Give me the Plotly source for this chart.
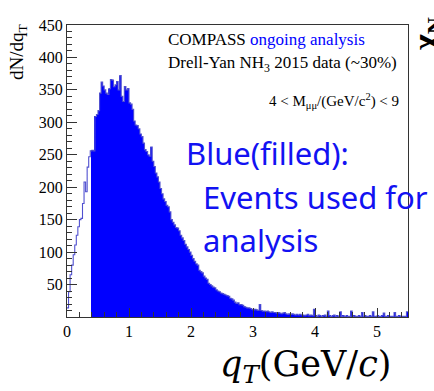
import numpy as np
import plotly.graph_objects as go

# histogram binning (GeV/c)
bin_width = 0.025
qt_min, qt_max = 0.0, 5.5
qt_cut = 0.4

# counts per bin below the qT cut (drawn as outline only)
counts_low = [14, 39, 65, 80, 96, 111, 126, 139, 150, 152, 175, 208, 193, 231, 247, 256]

# counts per bin from the qT cut up to 5.5 GeV/c (events used for analysis)
counts_used = [
    257, 256, 309, 312, 318, 345, 362, 356, 350, 345,
    343, 352, 366, 365, 355, 358, 363, 350, 372, 340,
    332, 355, 350, 352, 330, 328, 320, 302, 296, 295,
    290, 282, 278, 268, 258, 255, 250, 248, 262, 240,
    232, 222, 216, 208, 198, 190, 182, 178, 172, 170,
    162, 150, 146, 142, 138, 137, 133, 126, 122, 118,
    112, 108, 104, 100, 95, 90, 86, 82, 80, 72,
    70, 68, 63, 60, 58, 52, 50, 48, 46, 45,
    42, 40, 39, 37, 36, 35, 34, 33, 32, 29,
    28, 26, 23, 21, 22, 19, 19, 18, 16, 15,
    14, 14, 13, 12, 11, 12, 11, 10, 19, 10,
    9, 9, 8, 9, 8, 7, 8, 7, 7, 6,
    7, 6, 5, 6, 7, 5, 4, 5, 4, 5,
    4, 3, 4, 3, 4, 3, 3, 2, 3, 4,
    2, 3, 2, 12, 2, 1, 3, 2, 1, 2,
    3, 1, 9, 2, 1, 2, 3, 1, 2, 1,
    8, 1, 2, 1, 2, 1, 1, 9, 1, 2,
    1, 1, 2, 1, 7, 1, 2, 1, 1, 2,
    1, 8, 1, 1, 2, 1, 1, 2, 6, 1,
    1, 2, 1, 1, 1, 7, 1, 1, 2, 1,
    1, 1, 1, 8,
]

x_ticks = [0, 1, 2, 3, 4, 5]
y_ticks = [50, 100, 150, 200, 250, 300, 350, 400, 450]

n_low = len(counts_low)
edges_low = qt_min + bin_width * np.arange(n_low + 1)
edges_used = qt_cut + bin_width * np.arange(len(counts_used) + 1)
centers_used = 0.5 * (edges_used[:-1] + edges_used[1:])

# full outline of the distribution as a step line
all_counts = list(counts_low) + list(counts_used)
all_edges = np.concatenate([edges_low, edges_used[1:]])
step_x = list(all_edges)
step_y = list(all_counts) + [all_counts[-1]]

fig = go.Figure()
fig.add_trace(go.Scatter(
    x=step_x, y=step_y, mode="lines", line_shape="hv",
    line=dict(color="#5050d0", width=1.1), hoverinfo="skip",
))
fig.add_trace(go.Bar(
    x=centers_used, y=counts_used, width=bin_width,
    marker=dict(color="#0000ff", line=dict(width=0)),
))

# plot frame in pixels
W, H = 434, 391
L, R, T, B = 67, 408, 25, 317


def px(x):
    return (x - L) / (R - L)


def py(y):
    return (B - y) / (B - T)


serif = "Liberation Serif"
ann = []
ann.append(dict(text="COMPASS <span style='color:#0000ff'>ongoing analysis</span>",
                x=px(166), y=py(40), xanchor="left", yanchor="middle",
                font=dict(family=serif, size=17, color="black")))
ann.append(dict(text="Drell-Yan NH<sub>3</sub> 2015 data (~30%)",
                x=px(166), y=py(64), xanchor="left", yanchor="middle",
                font=dict(family=serif, size=17, color="black")))
ann.append(dict(text="4 &lt; M<sub>μμ</sub>/(GeV/c<sup>2</sup>) &lt; 9",
                x=px(401), y=py(101), xanchor="right", yanchor="middle",
                font=dict(family=serif, size=15, color="black")))
blue_font = dict(family="Noto Sans", size=31, color="#1212f2")
ann.append(dict(text="Blue(filled):", x=px(184), y=py(153),
                xanchor="left", yanchor="middle", font=blue_font))
ann.append(dict(text="Events used for", x=px(201), y=py(197),
                xanchor="left", yanchor="middle", font=blue_font))
ann.append(dict(text="analysis", x=px(201), y=py(240),
                xanchor="left", yanchor="middle", font=blue_font))
ann.append(dict(text="dN/dq<sub>T</sub>", textangle=-90,
                x=px(18), y=py(22), xanchor="center", yanchor="top",
                font=dict(family=serif, size=19, color="black")))
ann.append(dict(text="<i>q</i><sub><i>T</i></sub>(GeV/<i>c</i>)",
                x=px(305), y=py(366), xanchor="center", yanchor="middle",
                font=dict(family="DejaVu Serif", size=35, color="black")))
ann.append(dict(text="<b>χ<sub>N</sub></b>", textangle=-90,
                x=px(427), y=py(34), xanchor="center", yanchor="middle",
                font=dict(family=serif, size=34, color="black")))
for a in ann:
    a.update(xref="paper", yref="paper", showarrow=False)

fig.update_layout(
    width=W, height=H,
    margin=dict(l=L, r=W - R, t=T, b=H - B, pad=0),
    paper_bgcolor="white", plot_bgcolor="white",
    showlegend=False, bargap=0,
    annotations=ann,
    xaxis=dict(
        range=[qt_min, qt_max], tickvals=x_ticks, ticktext=[str(v) for v in x_ticks],
        ticks="inside", ticklen=9, tickcolor="#333", tickwidth=1,
        minor=dict(dtick=0.2, ticks="inside", ticklen=5, tickcolor="#333"),
        showline=True, linecolor="#333", linewidth=1, mirror=True,
        showgrid=False, zeroline=False,
        tickfont=dict(family=serif, size=16, color="black"),
    ),
    yaxis=dict(
        range=[0, 450], tickvals=y_ticks, ticktext=[str(v) for v in y_ticks],
        ticks="inside", ticklen=10, tickcolor="#333", tickwidth=1,
        minor=dict(dtick=10, ticks="inside", ticklen=5, tickcolor="#333"),
        showline=True, linecolor="#333", linewidth=1, mirror=True,
        showgrid=False, zeroline=False,
        tickfont=dict(family=serif, size=16, color="black"),
    ),
)

fig.write_html("out.html")
